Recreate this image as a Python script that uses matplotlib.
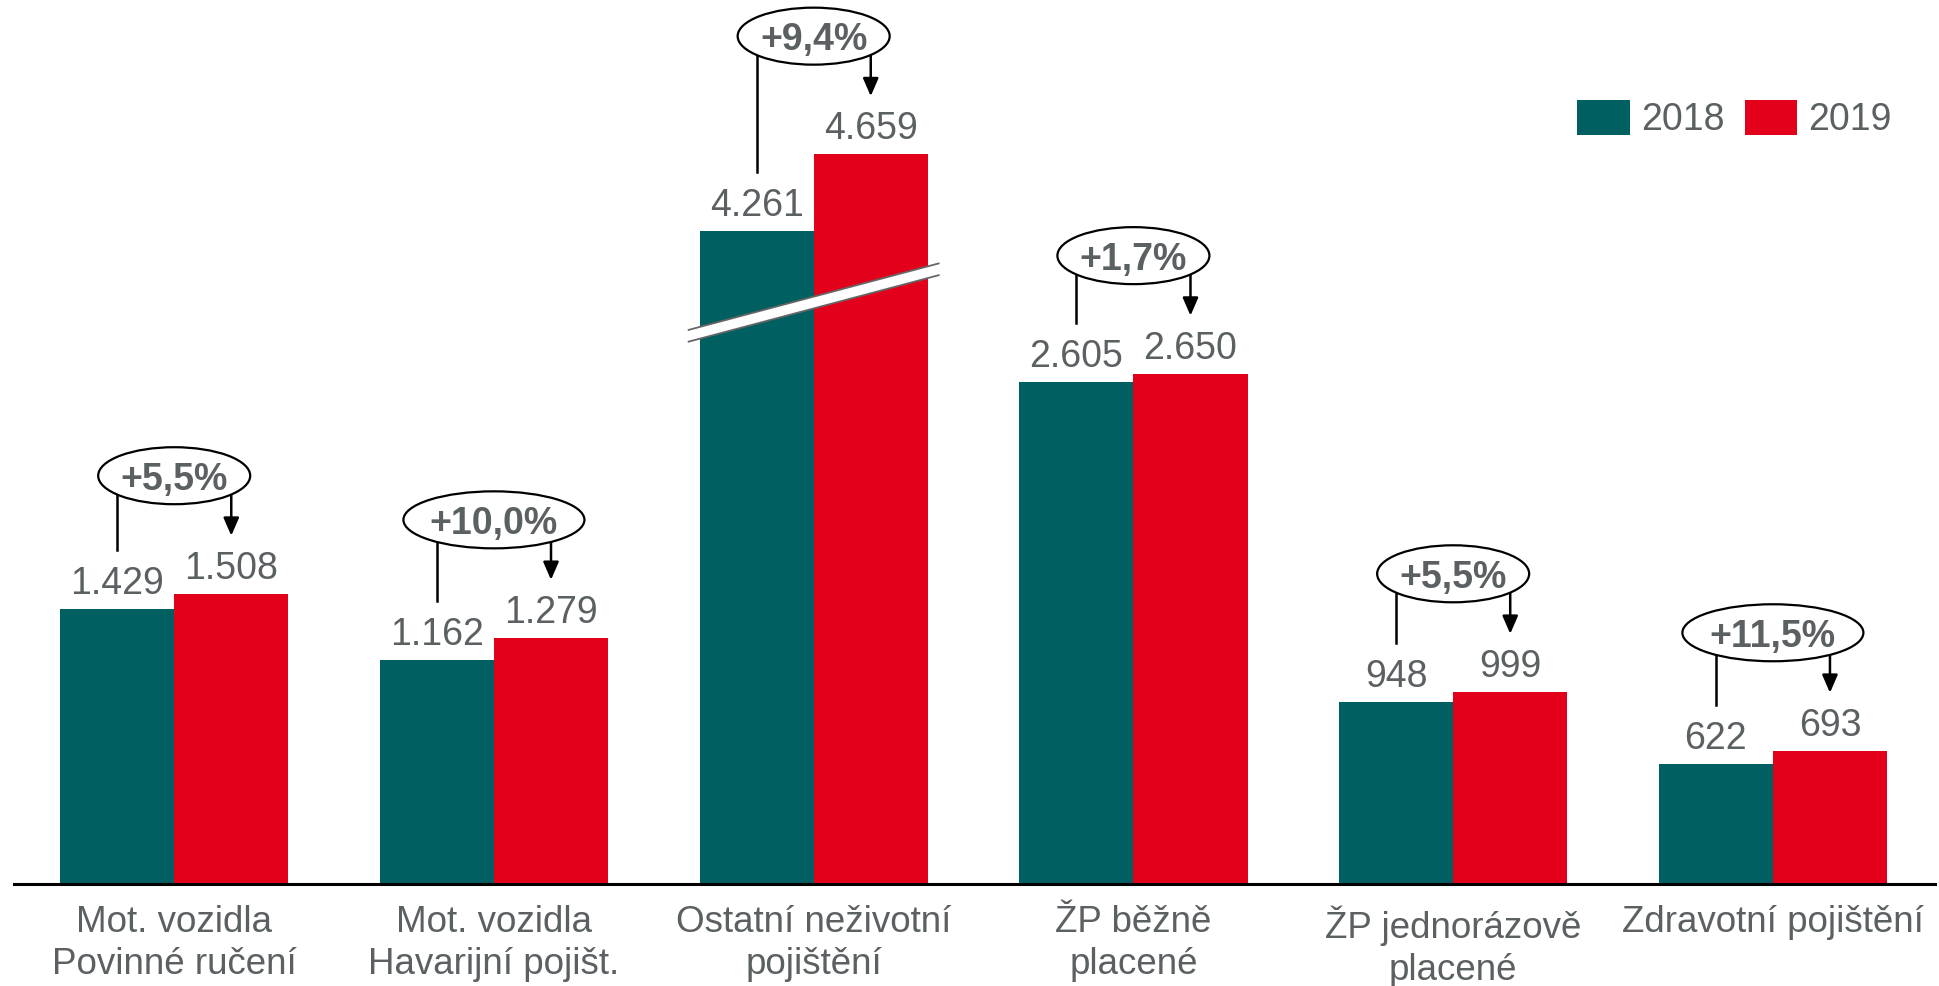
import numpy as np
import matplotlib
matplotlib.use("Agg")
import matplotlib.pyplot as plt
from matplotlib.patches import Ellipse, Polygon

plt.rcParams["font.family"] = ["Liberation Sans", "DejaVu Sans"]

categories = [
    "Mot. vozidla\nPovinné ručení",
    "Mot. vozidla\nHavarijní pojišt.",
    "Ostatní neživotní\npojištění",
    "ŽP běžně\nplacené",
    "ŽP jednorázově\nplacené",
    "Zdravotní pojištění",
]
v2018 = [1429, 1162, 4261, 2605, 948, 622]
v2019 = [1508, 1279, 4659, 2650, 999, 693]
growth = ["+5,5%", "+10,0%", "+9,4%", "+1,7%", "+5,5%", "+11,5%"]
# amount cut out of the bar by the axis break (only 3rd group)
cut = [0, 0, 870, 0, 0, 0]

TEAL = "#005F61"
RED = "#E2001A"
GREY = "#5B6063"

px_per_unit = 0.1927   # vertical scale, px per value unit
px_per_x = 319.7       # px per group

fig = plt.figure(figsize=(19.39, 9.86), dpi=100)
ax = fig.add_axes([14 / 1939, 1 - 884.3 / 986, (1935 - 14) / 1939, 884.3 / 986])

x = np.arange(len(categories))
w = 0.357
d18 = np.array(v2018) - np.array(cut)
d19 = np.array(v2019) - np.array(cut)

b18 = ax.bar(x - w / 2, d18, w, color=TEAL, label="2018", linewidth=0)
b19 = ax.bar(x + w / 2, d19, w, color=RED, label="2019", linewidth=0)

def fmt(v):
    return f"{v:,}".replace(",", ".")

for xi, h, v in zip(x - w / 2, d18, v2018):
    ax.annotate(fmt(v), (xi, h), xytext=(0, 10.8), textcoords="offset points",
                ha="center", va="baseline", fontsize=27, color=GREY)
for xi, h, v in zip(x + w / 2, d19, v2019):
    ax.annotate(fmt(v), (xi, h), xytext=(0, 10.8), textcoords="offset points",
                ha="center", va="baseline", fontsize=27, color=GREY)

# growth bubbles with bracket + arrow
u = 1 / px_per_unit
ell_h = 57 * u
for xi, h18, h19, g in zip(x, d18, d19, growth):
    ew = (181 if len(g) > 5 else 152) / px_per_x
    cy = h19 + 118 * u
    ax.add_patch(Ellipse((xi, cy), ew, ell_h, facecolor="white",
                         edgecolor="black", lw=1.6, zorder=4))
    ax.text(xi, cy, g, ha="center", va="center_baseline", fontsize=27,
            fontweight="bold", color=GREY, zorder=5)
    dy = ell_h / 2 * np.sqrt(1 - (w / 2 / (ew / 2)) ** 2)
    ax.plot([xi - w / 2, xi - w / 2], [cy - dy, h18 + 59 * u],
            color="black", lw=1.8, zorder=3)
    ax.annotate("", xy=(xi + w / 2, h19 + 58 * u), xytext=(xi + w / 2, cy - dy),
                arrowprops=dict(arrowstyle="-|>,head_length=1.08,head_width=0.47",
                                mutation_scale=10, color="black", lw=1.8,
                                shrinkA=0, shrinkB=0), zorder=3)

# axis break on the 3rd group: white band with grey edges
bx = np.array([2 - w - 0.034, 2 + w + 0.034])
yc, slope, th = 3019, 441, 61
top = yc + th / 2 + slope * (bx - 2)
bot = yc - th / 2 + slope * (bx - 2)
ax.add_patch(Polygon([(bx[0], top[0]), (bx[1], top[1]), (bx[1], bot[1]), (bx[0], bot[0])],
                     closed=True, facecolor="white", edgecolor="none", zorder=3))
ax.plot(bx, top, color="#666666", lw=1.3, zorder=3)
ax.plot(bx, bot, color="#666666", lw=1.3, zorder=3)

ax.set_xlim(-0.501, 5.507)
ax.set_ylim(0, 884.3 * u)
ax.set_xticks(x, categories)
ax.tick_params(axis="x", length=0, pad=15, labelsize=26.5, labelcolor=GREY)
for lbl in ax.get_xticklabels():
    lbl.set_linespacing(1.27)
ax.set_yticks([])
for s in ["top", "right", "left"]:
    ax.spines[s].set_visible(False)
ax.spines["bottom"].set_linewidth(2.2)
ax.spines["bottom"].set_color("black")

ax.legend(handles=[b18, b19], labels=["2018", "2019"], ncol=2, frameon=False,
          loc="upper left", bbox_to_anchor=(1577 / 1939, 1 - 100 / 986),
          bbox_transform=fig.transFigure, borderpad=0, borderaxespad=0,
          fontsize=27, labelcolor=GREY, handlelength=1.4, handleheight=1.05,
          handletextpad=0.3, columnspacing=0.55)

fig.savefig("out.png", dpi=100)
